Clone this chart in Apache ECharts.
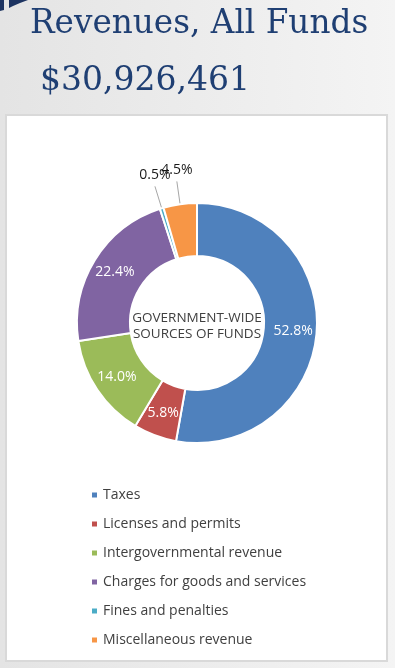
<!DOCTYPE html>
<html>
<head>
<meta charset="utf-8">
<script src="https://cdn.jsdelivr.net/npm/echarts@6/dist/echarts.min.js"></script>
<style>
html,body{margin:0;padding:0;width:395px;height:668px;overflow:hidden;}
#chart{width:395px;height:668px;}
</style>
</head>
<body>
<div id="chart"></div>
<script>
const titleText = "Revenues, All Funds";
const totalText = "$30,926,461";
const centerText = "GOVERNMENT-WIDE\nSOURCES OF FUNDS";
const categories = ["Taxes", "Licenses and permits", "Intergovernmental revenue", "Charges for goods and services", "Fines and penalties", "Miscellaneous revenue"];
const shares = [52.8, 5.8, 14.0, 22.4, 0.5, 4.5];
const colors = ["#4F81BD", "#C0504D", "#9BBB59", "#8064A2", "#4BACC6", "#F79646"];
const outsideLabels = ["Fines and penalties", "Miscellaneous revenue"];

const chart = echarts.init(document.getElementById('chart'), null, {renderer: 'canvas'});

const data = categories.map((name, i) => {
  const item = {name: name, value: shares[i], itemStyle: {color: colors[i]}};
  if (outsideLabels.includes(name)) {
    item.label = {position: 'outside', color: '#1a1a1a', fontSize: 14, fontFamily: 'Open Sans'};
    item.labelLine = {show: true, length: 23, length2: 0, lineStyle: {color: '#a6a6a6', width: 1}};
  }
  return item;
});

const option = {
  animation: false,
  backgroundColor: {
    type: 'linear', x: 0, y: 0, x2: 1, y2: 0,
    colorStops: [{offset: 0, color: '#e4e4e4'}, {offset: 1, color: '#f4f4f4'}]
  },
  graphic: [
    {type: 'polygon', shape: {points: [[0,0],[4,0],[4,10],[0,11]]}, style: {fill: '#1d3461'}, z: 1},
    {type: 'polygon', shape: {points: [[9,0],[28,0],[20,3],[13,6],[9,8]]}, style: {fill: '#1d3461'}, z: 1},
    {type: 'rect', shape: {x: 6, y: 115, width: 381, height: 546}, style: {fill: '#ffffff', stroke: '#d9d9d9', lineWidth: 2}, z: 0},
    {type: 'text', left: 30, top: 8, style: {text: titleText, font: '32.7px "DejaVu Serif", serif', fill: '#1f3f73'}, z: 5},
    {type: 'text', left: 40, top: 65, style: {text: totalText, font: '33px "DejaVu Serif", serif', fill: '#1f3f73'}, z: 5},
    {type: 'text', x: 197, y: 326, style: {text: centerText, font: '13.5px "Open Sans"', fill: '#404040', align: 'center', verticalAlign: 'middle', lineHeight: 16.5}, z: 5}
  ],
  legend: {
    orient: 'vertical',
    left: 90,
    top: 487,
    padding: 0,
    icon: 'rect',
    itemWidth: 7,
    itemHeight: 7,
    itemGap: 13,
    textStyle: {fontFamily: 'Open Sans', fontSize: 14, color: '#404040', lineHeight: 16},
    data: categories
  },
  series: [{
    type: 'pie',
    center: [197, 323],
    radius: [67, 120],
    startAngle: 90,
    clockwise: true,
    avoidLabelOverlap: false,
    itemStyle: {borderColor: '#ffffff', borderWidth: 2},
    label: {show: true, position: 'inside', color: '#ffffff', fontSize: 14, fontFamily: 'Open Sans', formatter: p => p.value.toFixed(1) + '%'},
    labelLine: {show: false},
    labelLayout: function (params) {
      const pts = params.labelLinePoints;
      if (!pts || !outsideLabels.includes(categories[params.dataIndex])) return {};
      const p0 = pts[0], p1 = pts[1];
      const start = [p0[0] + (p0[0] - p1[0]) * 0.75, p0[1] + (p0[1] - p1[1]) * 0.75];
      return {
        x: p1[0],
        y: p1[1] - 4,
        align: 'center',
        verticalAlign: 'bottom',
        hideOverlap: false,
        labelLinePoints: [start, p1, p1]
      };
    },
    emphasis: {disabled: true},
    data: data
  }]
};
chart.setOption(option);
</script>
</body>
</html>
